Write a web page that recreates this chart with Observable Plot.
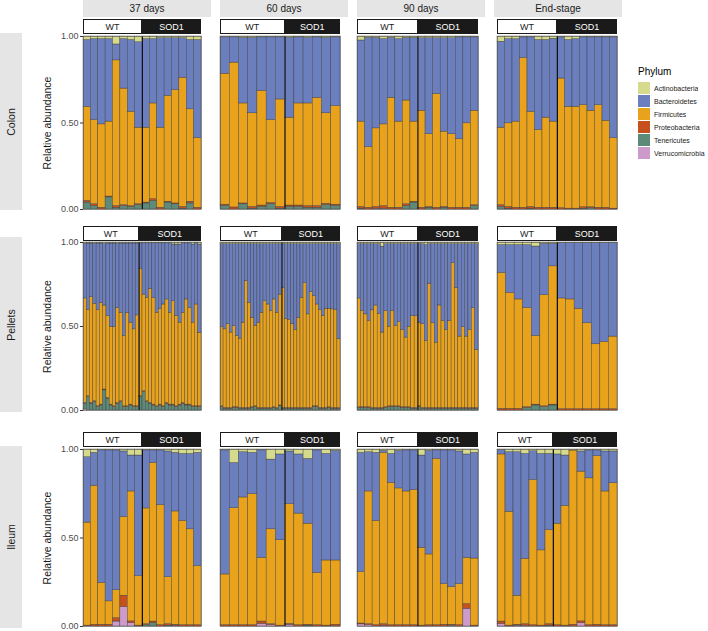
<!DOCTYPE html>
<html><head><meta charset="utf-8">
<script src="https://cdn.jsdelivr.net/npm/d3@7"></script>
<script src="https://cdn.jsdelivr.net/npm/@observablehq/plot@0.6"></script>
<style>
body{margin:0;background:#fff;font-family:"Liberation Sans",Arial,sans-serif;}
#root{position:relative;width:708px;height:631px;overflow:hidden;background:#fff;}
.abs{position:absolute;box-sizing:border-box;}
.colhead{background:#e5e5e5;color:#1a1a1a;font-size:10px;display:flex;align-items:center;justify-content:center;}
.rowhead{background:#e5e5e5;color:#1a1a1a;font-size:10.5px;}
.rowhead span{position:absolute;left:50%;top:50%;transform:translate(-50%,-50%) rotate(-90deg);white-space:nowrap;}
.gstrip{font-size:9px;display:flex;align-items:center;justify-content:center;}
.wt{background:#fff;color:#1a1a1a;border:0.8px solid #1a1a1a;}
.sod{background:#1a1a1a;color:#fff;border:0.8px solid #1a1a1a;}
</style></head><body><div id="root"></div>
<script>
// ---- categories ----
const phyla = ["Actinobacteria","Bacteroidetes","Firmicutes","Proteobacteria","Tenericutes","Verrucomicrobia"];
const phylaColors = ["#d6da8c","#6b7ebd","#e9a21c","#c6501e","#5e8a7a","#cc9bcc"];
const timepoints = ["37 days","60 days","90 days","End-stage"];
const sites = ["Colon","Pellets","Ileum"];
const genotypes = ["WT","SOD1"];
const yTicks = [0, 0.5, 1];

// ---- samples: [Actino, Bacteroidetes, Firmicutes, Proteo, Teneri, Verruco]; first nWT are WT ----
const colon37 = [[.02,.386,.544,.01,.04,0],[.015,.468,.487,.01,.02,0],[.015,.493,.482,.01,0,0],[.015,.477,.433,.005,.07,0],[.046,.092,.842,.01,.01,0],[.015,.286,.674,.005,.02,0],[.02,.415,.545,.005,.015,0],[.033,.494,.443,.005,.025,0],
 [.015,.512,.433,.005,.035,0],[.015,.372,.553,.01,.05,0],[.01,.517,.463,.01,0,0],[.01,.333,.612,.005,.04,0],[.01,.30,.655,.005,.03,0],[.01,.228,.747,.01,.005,0],[.02,.401,.534,.01,.035,0],[.02,.568,.402,.01,0,0]];
const colon37nWT = 8;
const colon60 = [[.005,.21,.757,.008,.02,0],[.005,.146,.837,.012,0,0],[.008,.379,.578,.005,.03,0],[.008,.436,.541,.01,.005,0],[.005,.309,.663,.008,.015,0],[.005,.478,.479,.008,.03,0],[.005,.359,.621,.01,.005,0],
 [.008,.461,.508,.008,.015,0],[.005,.382,.59,.008,.015,0],[.008,.379,.593,.01,.01,0],[.005,.349,.626,.01,.01,0],[.008,.436,.523,.008,.025,0],[.005,.397,.57,.008,.02,0]];
const colon60nWT = 7;
const colon90 = [[.023,.469,.493,.01,.005,0],[.008,.632,.35,.01,0,0],[.008,.523,.454,.01,0,.005],[.015,.493,.472,.015,0,.005],[.008,.346,.636,.01,0,0],[.015,.477,.498,.01,0,0],[.008,.362,.60,.01,.02,0],[.008,.484,.463,.005,.04,0],
 [.01,.419,.561,.01,0,0],[.01,.555,.42,.005,.01,0],[.01,.323,.657,.01,0,0],[.01,.54,.435,.005,.01,0],[.01,.555,.425,.01,0,0],[.005,.589,.396,.01,0,0],[.005,.497,.488,.01,0,0],[.005,.424,.546,.005,.02,0]];
const colon90nWT = 8;
const colonEnd = [[.03,.497,.448,.01,.015,0],[.015,.487,.483,.01,.005,0],[.015,.477,.498,.01,0,0],[.005,.119,.866,.01,0,0],[.005,.43,.55,.01,.005,0],[.02,.52,.45,.01,0,0],[.02,.449,.521,.01,0,0],[.013,.479,.498,.01,0,0],
 [.005,.238,.749,.008,0,0],[.02,.386,.589,.005,0,0],[.015,.391,.589,.005,0,0],[.005,.392,.59,.008,.005,0],[.005,.424,.558,.005,.008,0],[.005,.392,.593,.01,0,0],[.005,.482,.503,.01,0,0],[.005,.583,.407,.005,0,0]];
const colonEndnWT = 8;

const pellets37 = [[.008,.325,.622,.005,.03,.01],[.006,.394,.515,.005,.08,0],[.006,.319,.63,.005,.04,0],[.008,.357,.58,.005,.05,0],[.006,.396,.573,.005,.02,0],[.006,.353,.606,.005,.03,0],[.01,.365,.50,.005,.12,0],[.006,.432,.487,.005,.07,0],[.006,.497,.462,.005,.03,0],[.006,.497,.472,.005,.02,0],[.008,.381,.566,.005,.04,0],[.006,.412,.527,.005,.05,0],[.006,.55,.419,.005,.02,0],[.006,.412,.557,.005,.02,0],[.006,.471,.488,.005,.03,0],[.006,.511,.458,.005,.02,0],[.006,.428,.541,.005,.02,0],
 [.005,.153,.757,.005,.08,0],[.005,.305,.575,.005,.11,0],[.005,.325,.615,.005,.05,0],[.005,.271,.679,.005,.04,0],[.005,.325,.635,.005,.03,0],[.005,.413,.557,.005,.02,0],[.005,.39,.57,.005,.03,0],[.005,.364,.606,.005,.02,0],[.005,.334,.616,.005,.04,0],[.005,.413,.547,.005,.03,0],[.012,.337,.616,.005,.03,0],[.012,.426,.537,.005,.02,0],[.012,.465,.488,.005,.03,0],[.005,.413,.537,.005,.04,0],[.005,.334,.626,.005,.03,0],[.005,.384,.576,.005,.03,0],[.012,.465,.498,.005,.02,0],[.005,.364,.606,.005,.02,0],[.012,.525,.438,.005,.02,0]];
const pellets37nWT = 17;
const pellets60 = [[.01,.493,.472,.005,.02,0],[.01,.507,.468,.005,.01,0],[.01,.477,.498,.005,.01,0],[.01,.526,.449,.005,.01,0],[.01,.487,.483,.005,.015,0],[.01,.546,.424,.005,.015,0],[.01,.562,.413,.005,.01,0],[.01,.467,.508,.005,.01,0],[.01,.221,.754,.005,.01,0],[.01,.349,.626,.005,.01,0],[.01,.438,.532,.005,.015,0],[.01,.487,.478,.005,.02,0],[.01,.467,.508,.005,.01,0],[.01,.408,.567,.005,.01,0],[.01,.339,.636,.005,.01,0],[.01,.359,.616,.005,.01,0],[.01,.398,.577,.005,.01,0],[.01,.329,.641,.005,.015,0],[.01,.408,.567,.005,.01,0],[.01,.30,.66,.005,.025,0],
 [.01,.26,.715,.005,.01,0],[.01,.444,.531,.005,.01,0],[.01,.452,.523,.005,.01,0],[.01,.477,.498,.005,.01,0],[.01,.511,.464,.005,.01,0],[.01,.438,.537,.005,.01,0],[.01,.319,.656,.005,.01,0],[.01,.231,.744,.005,.01,0],[.01,.418,.557,.005,.01,0],[.01,.286,.689,.005,.01,0],[.01,.31,.655,.005,.02,0],[.01,.359,.606,.005,.02,0],[.01,.392,.583,.005,.01,0],[.01,.428,.547,.005,.01,0],[.01,.384,.591,.005,.01,0],[.01,.384,.586,.005,.015,0],[.01,.388,.587,.005,.01,0],[.01,.392,.583,.005,.01,0],[.01,.566,.409,.005,.01,0]];
const pellets60nWT = 20;
const pellets90 = [[.01,.323,.647,.005,.015,0],[.01,.398,.572,.005,.015,0],[.01,.418,.552,.005,.015,0],[.01,.457,.513,.005,.015,0],[.01,.394,.581,.005,.01,0],[.01,.365,.61,.005,.01,0],[.01,.414,.561,.005,.01,0],[.025,.511,.449,.005,.01,0],[.01,.398,.572,.005,.015,0],[.01,.491,.474,.005,.02,0],[.01,.398,.567,.005,.02,0],[.01,.487,.478,.005,.02,0],[.01,.463,.502,.005,.02,0],[.01,.511,.459,.005,.015,0],[.01,.556,.414,.005,.015,0],[.01,.491,.479,.005,.015,0],[.01,.428,.547,.005,.01,0],[.01,.428,.547,.005,.01,0],
 [.01,.467,.498,.005,.02,0],[.01,.477,.498,.005,.01,0],[.015,.571,.399,.005,.01,0],[.01,.235,.74,.005,.01,0],[.01,.471,.504,.005,.01,0],[.01,.586,.389,.005,.01,0],[.01,.365,.61,.005,.01,0],[.01,.457,.518,.005,.01,0],[.01,.511,.464,.005,.01,0],[.01,.457,.518,.005,.01,0],[.01,.112,.863,.005,.01,0],[.01,.26,.715,.005,.01,0],[.01,.55,.425,.005,.01,0],[.01,.493,.482,.005,.01,0],[.01,.55,.425,.005,.01,0],[.01,.511,.464,.005,.01,0],[.01,.379,.596,.005,.01,0],[.01,.629,.346,.005,.01,0]];
const pellets90nWT = 18;
const pelletsEnd = [[.015,.166,.809,.01,0,0],[.015,.285,.69,.01,0,0],[.015,.324,.651,.01,0,0],[.015,.374,.591,.005,.015,0],[.024,.532,.409,.005,.03,0],[.008,.306,.661,.005,.02,0],[.008,.134,.823,.005,.03,0],
 [.003,.33,.659,.008,0,0],[.003,.336,.653,.008,0,0],[.003,.391,.598,.008,0,0],[.003,.478,.511,.008,0,0],[.003,.603,.386,.008,0,0],[.003,.589,.40,.008,0,0],[.003,.557,.432,.008,0,0]];
const pelletsEndnWT = 7;

const ileum37 = [[.044,.369,.582,.005,0,0],[.019,.186,.785,.01,0,0],[.005,.749,.236,.01,0,0],[.005,.853,.132,.01,0,0],[.005,.79,.158,.019,0,.028],[.011,.37,.445,.064,0,.11],[.034,.203,.734,.01,0,.019],[.034,.682,.279,.005,0,0],
 [.005,.328,.654,.005,.008,0],[.005,.071,.896,.008,.02,0],[.005,.309,.678,.008,0,0],[.011,.711,.265,.008,.005,0],[.019,.331,.64,.005,0,.005],[.025,.378,.589,.008,0,0],[.025,.426,.541,.008,0,0],[.019,.64,.333,.008,0,0]];
const ileum37nWT = 8;
const ileum60 = [[.005,.701,.286,.008,0,0],[.076,.255,.661,.008,0,0],[.015,.256,.721,.008,0,0],[.019,.233,.74,.008,0,0],[.005,.607,.36,.013,0,.015],[.057,.394,.536,.005,0,.008],[.028,.485,.482,.005,0,0],
 [.011,.298,.676,.005,0,.01],[.028,.334,.63,.008,0,0],[.053,.366,.571,.005,.005,0],[.005,.692,.295,.008,0,0],[.025,.602,.368,.005,0,0],[.008,.619,.363,.01,0,0]];
const ileum60nWT = 7;
const ileum90 = [[.019,.674,.29,.005,0,.012],[.015,.222,.75,.005,0,.008],[.019,.384,.589,.008,0,0],[.008,.012,.967,.008,0,.005],[.025,.164,.803,.008,0,0],[.008,.212,.772,.008,0,0],[.005,.232,.755,.008,0,0],[.005,.224,.763,.008,0,0],
 [.034,.521,.44,.005,0,0],[.008,.585,.399,.008,0,0],[.005,.048,.939,.008,0,0],[.005,.755,.23,.01,0,0],[.005,.772,.213,.005,0,.005],[.011,.749,.232,.008,0,0],[.028,.584,.261,.027,0,.10],[.019,.597,.379,.005,0,0]];
const ileum90nWT = 8;
const ileumEnd = [[.003,.025,.944,.013,0,.015],[.015,.337,.643,.005,0,0],[.015,.811,.164,.005,0,.005],[.025,.592,.37,.008,0,.005],[.01,.162,.82,.008,0,0],[.025,.545,.425,.005,0,0],[.025,.431,.531,.008,.005,0],
 [.028,.391,.573,.008,0,0],[.034,.284,.677,.005,0,0],[.006,0,.984,.01,0,0],[.011,.114,.846,.01,0,.019],[.005,.158,.829,.008,0,0],[.005,.033,.952,.01,0,0],[.011,.226,.755,.008,0,0],[.011,.18,.801,.008,0,0]];
const ileumEndnWT = 7;

const panelData = [
  [[colon37,colon37nWT],[colon60,colon60nWT],[colon90,colon90nWT],[colonEnd,colonEndnWT]],
  [[pellets37,pellets37nWT],[pellets60,pellets60nWT],[pellets90,pellets90nWT],[pelletsEnd,pelletsEndnWT]],
  [[ileum37,ileum37nWT],[ileum60,ileum60nWT],[ileum90,ileum90nWT],[ileumEnd,ileumEndnWT]]
];

// ---- layout ----
const colGeom = [{x:83,w:118,hx:83,hw:128},{x:220,w:120,hx:220,hw:128},{x:357,w:121,hx:357,hw:128},{x:497,w:120,hx:494,hw:128}];
const rowGeom = [{top:36,h:173,sTop:19,sH:15,lTop:33,lH:177},{top:242,h:168,sTop:226,sH:15,lTop:237,lH:175},{top:449,h:177,sTop:432,sH:15,lTop:446,lH:182}];
const root = document.getElementById("root");
function div(cls, x, y, w, h, text) {
  const d = document.createElement("div");
  d.className = "abs " + cls;
  Object.assign(d.style, {left: x + "px", top: y + "px", width: w + "px", height: h + "px"});
  if (text != null) d.textContent = text;
  root.appendChild(d);
  return d;
}
// column headers
timepoints.forEach((t, c) => div("colhead", colGeom[c].hx, 0, colGeom[c].hw, 17, t));
// row headers
sites.forEach((s, r) => {
  const d = div("rowhead", 0, rowGeom[r].lTop, 22, rowGeom[r].lH);
  const sp = document.createElement("span"); sp.textContent = s; d.appendChild(sp);
});

const stackOrder = [5,4,3,2,1,0]; // bottom → top
sites.forEach((s, r) => {
  timepoints.forEach((t, c) => {
    const [samples, nWT] = panelData[r][c];
    const n = samples.length;
    const g = colGeom[c], rg = rowGeom[r];
    // genotype strips
    const wWT = g.w * nWT / n;
    div("gstrip wt", g.x, rg.sTop, wWT, rg.sH, genotypes[0]);
    div("gstrip sod", g.x + wWT, rg.sTop, g.w - wWT, rg.sH, genotypes[1]);
    const data = [];
    samples.forEach((smp, i) => stackOrder.forEach(k => data.push({i, phylum: phyla[k], value: smp[k]})));
    const ml = c === 0 ? 60 : 0;
    const marks = [
      Plot.rectY(data, {x1: "i", x2: d => d.i + 1, y: "value", fill: "phylum", stroke: "#3a3a3a", strokeWidth: 0.4}),
      Plot.ruleX([nWT], {stroke: "#111", strokeWidth: 1}),
      Plot.frame({stroke: "#555", strokeWidth: 0.6})
    ];
    if (c === 0) {
      marks.push(Plot.axisY(yTicks, {tickFormat: d3.format(".2f"), tickSize: 3, tickPadding: 2, fontSize: 9, label: null, stroke: "#333", color: "#4d4d4d"}));
      marks.push(Plot.axisY([], {label: "Relative abundance", labelAnchor: "center", labelArrow: "none", labelOffset: 40, fontSize: 10.5, tickSize: 0}));
    }
    const p = Plot.plot({
      width: g.w + ml, height: rg.h,
      marginLeft: ml, marginRight: 0, marginTop: 0, marginBottom: 0,
      x: {domain: [0, n], axis: null},
      y: {domain: [0, 1], axis: null},
      color: {domain: phyla, range: phylaColors},
      style: {fontFamily: "Liberation Sans, Arial, sans-serif", color: "#1a1a1a", overflow: "visible"},
      marks
    });
    p.classList.add("abs");
    p.style.left = (g.x - ml) + "px";
    p.style.top = rg.top + "px";
    root.appendChild(p);
  });
});

// legend
div("", 638, 66, 60, 14, "Phylum").style.fontSize = "10px";
const leg = Plot.legend({legend: "swatches", color: {domain: phyla, range: phylaColors}, columns: 1, swatchSize: 12,
  style: {fontSize: "7px", fontFamily: "Liberation Sans, Arial, sans-serif", color: "#1a1a1a"}});
leg.classList.add("abs");
leg.style.left = "638px"; leg.style.top = "82px"; leg.style.width = "70px";
leg.querySelectorAll("svg").forEach(s => { s.style.marginRight = "4px"; });
root.appendChild(leg);
</script></body></html>
